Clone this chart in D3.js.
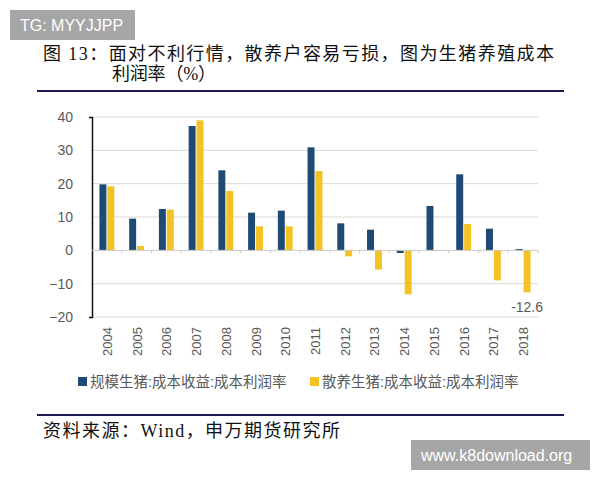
<!DOCTYPE html>
<html lang="zh">
<head>
<meta charset="utf-8">
<title>生猪养殖成本利润率</title>
<style>
	body { margin: 0; background: #fff; }
	svg text { font-family: "Liberation Sans", "Noto Sans CJK SC", sans-serif; }
	.serif { font-family: "Liberation Serif", "Noto Sans CJK SC", serif !important; }
</style>
</head>
<body>
<svg id="chart" width="600" height="480"></svg>
<script src="https://d3js.org/d3.v7.min.js"></script>
<script>
"use strict";

var years = ["2004","2005","2006","2007","2008","2009","2010","2011","2012","2013","2014","2015","2016","2017","2018"];
var scaleFarm = [19.8, 9.5, 12.4, 37.3, 24.0, 11.3, 11.9, 30.9, 8.1, 6.2, -0.8, 13.3, 22.8, 6.5, 0.4];
var smallFarm = [19.2, 1.3, 12.2, 39.0, 17.8, 7.2, 7.2, 23.8, -1.8, -5.8, -13.2, -0.2, 7.9, -9.0, -12.6];
var seriesNames = ["规模生猪:成本收益:成本利润率", "散养生猪:成本收益:成本利润率"];
var yTicks = [-20, -10, 0, 10, 20, 30, 40];

var colors = ["#1f4a73", "#f3c224"];
var svg = d3.select("#chart");

// title + rules
svg.append("text").attr("class", "serif")
	.attr("x", 43).attr("y", 60)
	.attr("font-size", 18).attr("fill", "#111")
	.attr("textLength", 511).attr("lengthAdjust", "spacing")
	.text("图 13：面对不利行情，散养户容易亏损，图为生猪养殖成本");
svg.append("text").attr("class", "serif")
	.attr("x", 112).attr("y", 80)
	.attr("font-size", 18).attr("fill", "#111")
	.attr("textLength", 104).attr("lengthAdjust", "spacing")
	.text("利润率（%）");
svg.append("line").attr("x1", 37).attr("x2", 564).attr("y1", 91).attr("y2", 91)
	.attr("stroke", "#1c1a55").attr("stroke-width", 2);
svg.append("line").attr("x1", 37).attr("x2", 564).attr("y1", 415).attr("y2", 415)
	.attr("stroke", "#1c1a55").attr("stroke-width", 2);
svg.append("text").attr("class", "serif")
	.attr("x", 43).attr("y", 437)
	.attr("font-size", 18).attr("fill", "#111")
	.attr("textLength", 297).attr("lengthAdjust", "spacing")
	.text("资料来源：Wind，申万期货研究所");

// scales
var x0 = d3.scaleBand().domain(years).range([92, 538]).paddingInner(0.5).paddingOuter(0.25);
var x1 = d3.scaleBand().domain([0, 1]).range([0, x0.bandwidth()]).paddingInner(0.12);
var y = d3.scaleLinear().domain([-20, 40]).range([317, 117]);

// gridlines
svg.append("g").selectAll("line").data(yTicks.filter(function(d){ return d !== 0; })).enter()
	.append("line")
	.attr("x1", 92).attr("x2", 538)
	.attr("y1", function(d){ return y(d); }).attr("y2", function(d){ return y(d); })
	.attr("stroke", "#d9d9d9").attr("stroke-width", 1);

// y axis
var yAxis = svg.append("g").attr("transform", "translate(92,0)")
	.call(d3.axisLeft(y).tickValues(yTicks).tickSizeInner(0).tickSizeOuter(3).tickPadding(19));
yAxis.select(".domain").attr("stroke", "#111").attr("stroke-width", 1.5);
yAxis.selectAll("text").attr("font-size", 14).attr("fill", "#595959");

// bars
var data = years.map(function(yr, i){ return { year: yr, vals: [scaleFarm[i], smallFarm[i]] }; });
var groups = svg.append("g").selectAll("g").data(data).enter().append("g")
	.attr("transform", function(d){ return "translate(" + x0(d.year) + ",0)"; });
groups.selectAll("rect").data(function(d){ return d.vals; }).enter()
	.append("rect")
	.attr("x", function(d, i){ return x1(i); })
	.attr("width", x1.bandwidth())
	.attr("y", function(d){ return y(Math.max(0, d)); })
	.attr("height", function(d){ return Math.abs(y(d) - y(0)); })
	.attr("fill", function(d, i){ return colors[i]; });

// x axis at zero
var step = x0.step();
svg.append("line").attr("x1", 92).attr("x2", 538).attr("y1", y(0)).attr("y2", y(0))
	.attr("stroke", "#c8c8c8").attr("stroke-width", 1);
svg.append("g").selectAll("line").data(years).enter().append("line")
	.attr("x1", function(d){ return x0(d) - x0.bandwidth() / 2 + step; })
	.attr("x2", function(d){ return x0(d) - x0.bandwidth() / 2 + step; })
	.attr("y1", y(0)).attr("y2", y(0) + 3)
	.attr("stroke", "#c8c8c8");
svg.append("g").selectAll("text").data(years).enter().append("text")
	.attr("transform", function(d){
		return "translate(" + (x0(d) + x0.bandwidth() / 2 + 5) + ",327) rotate(-90)";
	})
	.attr("text-anchor", "end")
	.attr("font-size", 13).attr("fill", "#595959")
	.text(function(d){ return d; });

// data label for 2018
var last = years.length - 1;
svg.append("text")
	.attr("x", x0(years[last]) + x1(1) + x1.bandwidth() / 2)
	.attr("y", y(-18.6))
	.attr("text-anchor", "middle")
	.attr("font-size", 14).attr("fill", "#595959")
	.text(smallFarm[last].toFixed(1));

// legend
var legendX = [78, 310];
seriesNames.forEach(function(name, i){
	svg.append("rect").attr("x", legendX[i]).attr("y", 377).attr("width", 9).attr("height", 9)
		.attr("fill", colors[i]);
	svg.append("text").attr("x", legendX[i] + 12).attr("y", 387)
		.attr("font-size", 14.5).attr("fill", "#595959")
		.text(name);
});

// watermark boxes
svg.append("rect").attr("x", 10).attr("y", 10).attr("width", 125).attr("height", 30).attr("fill", "#a6a6a6");
svg.append("text").attr("x", 20).attr("y", 31).attr("font-size", 16).attr("fill", "#fff").text("TG: MYYJJPP");
svg.append("rect").attr("x", 411).attr("y", 440).attr("width", 179).attr("height", 30).attr("fill", "#a6a6a6");
svg.append("text").attr("x", 421).attr("y", 461).attr("font-size", 16).attr("fill", "#fff").text("www.k8download.org");
</script>
</body>
</html>
